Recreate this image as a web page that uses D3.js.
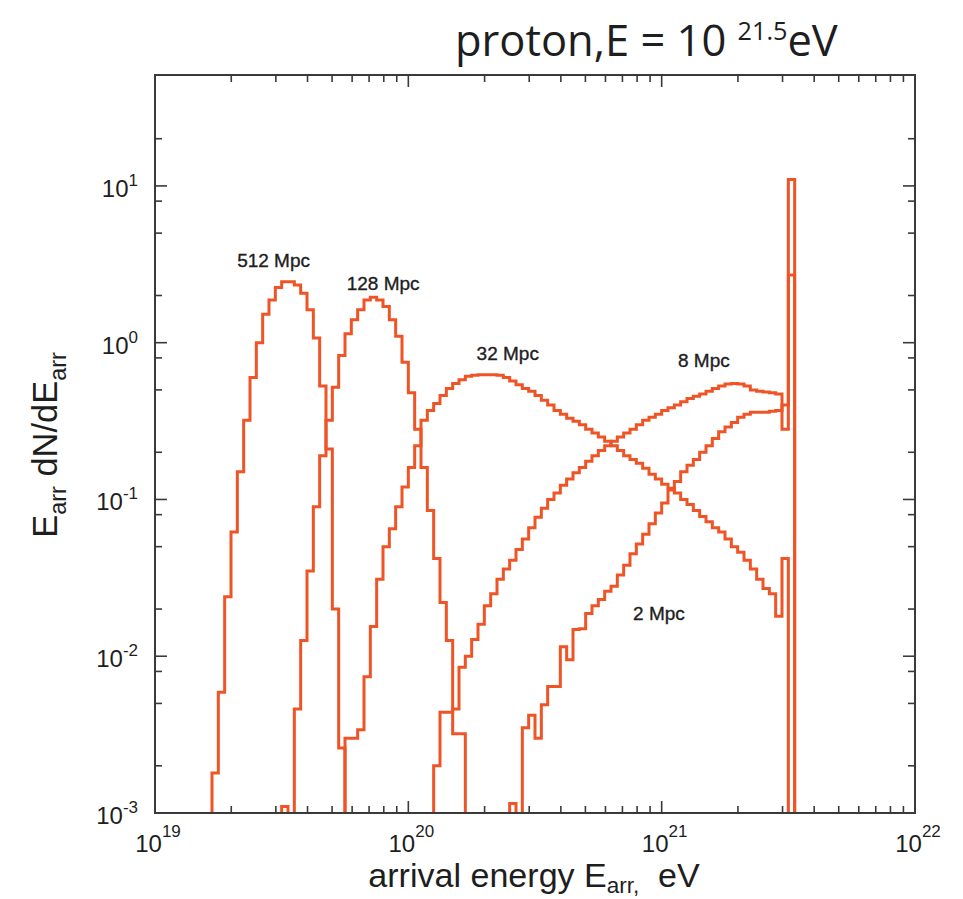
<!DOCTYPE html>
<html><head><meta charset="utf-8">
<script src="https://cdn.jsdelivr.net/npm/d3@7"></script>
<style>body{margin:0;background:#fff}svg{display:block}</style>
</head><body>
<svg id="c" width="963" height="899"></svg>
<script>
// histogram bins are 0.025 dex wide in log10(E/eV)
const binWidthDex = 0.025;

// 512 Mpc
const start512 = 19.225;
const vals512 = [0.0018, 0.0059, 0.024, 0.062, 0.15, 0.32, 0.60, 1.0, 1.52, 1.87, 2.25, 2.45, 2.45, 2.33, 2.07, 1.62, 1.07, 0.53, 0.21, 0.020, 0.0026];

// 128 Mpc
const start128 = 19.5;
const vals128 = [0.0011, 0, 0.0046, 0.0126, 0.035, 0.09, 0.19, 0.32, 0.52, 0.83, 1.14, 1.40, 1.62, 1.87, 1.95, 1.87, 1.70, 1.40, 1.1, 0.75, 0.48, 0.28, 0.16, 0.085, 0.042, 0.022, 0.0126, 0.0032, 0.0032];

// 32 Mpc
const start32 = 19.75;
const vals32 = [0.003, 0.003, 0.0034, 0.0074, 0.0155, 0.031, 0.05, 0.065, 0.09, 0.12, 0.16, 0.22, 0.32, 0.37, 0.41, 0.46, 0.51, 0.55, 0.58, 0.61,
  0.62, 0.625, 0.625, 0.625, 0.62, 0.60, 0.57, 0.54, 0.51, 0.49, 0.46, 0.43, 0.40, 0.37, 0.35, 0.33, 0.315, 0.30, 0.28, 0.265,
  0.25, 0.235, 0.22, 0.205, 0.19, 0.18, 0.17, 0.158, 0.145, 0.135, 0.125, 0.118, 0.11, 0.10, 0.093, 0.085, 0.078, 0.072, 0.066, 0.062,
  0.056, 0.05, 0.046, 0.041, 0.036, 0.031, 0.027, 0.025, 0.018, 0.042];

// 8 Mpc
const start8 = 20.1;
const vals8 = [0.002, 0.0044, 0.0044, 0.0046, 0.0085, 0.010, 0.0128, 0.016, 0.021, 0.025, 0.031, 0.036, 0.041, 0.048, 0.056, 0.066,
  0.077, 0.088, 0.10, 0.11, 0.123, 0.135, 0.148, 0.16, 0.175, 0.19, 0.205, 0.22, 0.235, 0.25, 0.265, 0.28, 0.30, 0.32, 0.335, 0.35,
  0.37, 0.385, 0.40, 0.42, 0.44, 0.455, 0.47, 0.49, 0.51, 0.53, 0.545, 0.55, 0.545, 0.53, 0.50, 0.49, 0.485, 0.48, 0.47, 0.28, 2.7];

// 2 Mpc
const start2 = 20.4;
const vals2 = [0.00115, 0, 0.0035, 0.0042, 0.0030, 0.0049, 0.0064, 0.0064, 0.0115, 0.0095, 0.0148, 0.0150, 0.0187, 0.021, 0.023,
  0.026, 0.028, 0.033, 0.038, 0.045, 0.052, 0.060, 0.070, 0.082, 0.095, 0.115, 0.13, 0.15, 0.165, 0.18, 0.20, 0.22, 0.245, 0.27,
  0.29, 0.31, 0.335, 0.35, 0.36, 0.36, 0.36, 0.365, 0.37, 0.40, 11];

const curveLabels = ["512 Mpc", "128 Mpc", "32 Mpc", "8 Mpc", "2 Mpc"];
const labelEnergies = [2.11e19, 5.71e19, 1.86e20, 1.16e21, 7.71e20];
const labelValues = [3.04, 2.17, 0.776, 0.70, 0.017];

const xTickExps = [19, 20, 21, 22];
const yTickExps = [-3, -2, -1, 0, 1];

const series = [
  {start: start512, vals: vals512},
  {start: start128, vals: vals128},
  {start: start32, vals: vals32},
  {start: start8, vals: vals8},
  {start: start2, vals: vals2}
];

const L = 155, R = 915, T = 75, B = 813;
const svg = d3.select("#c");
const x = d3.scaleLog().domain([1e19, 1e22]).range([L, R]);
const y = d3.scaleLog().domain([1e-3, 51]).range([B, T]);
const FLOOR = 1e-5;
const lineColor = "#ef5426";

svg.append("defs").append("clipPath").attr("id", "clip")
  .append("rect").attr("x", L).attr("y", T).attr("width", R - L).attr("height", B - T);

const line = d3.line().x(d => x(d[0])).y(d => y(d[1])).curve(d3.curveStepAfter);

series.forEach(s => {
  const n = s.vals.length;
  const E = i => Math.pow(10, s.start + i * binWidthDex);
  const pts = [[E(0), FLOOR]];
  s.vals.forEach((v, i) => pts.push([E(i), v > 0 ? v : FLOOR]));
  pts.push([E(n), s.vals[n - 1] > 0 ? s.vals[n - 1] : FLOOR]);
  pts.push([E(n), FLOOR]);
  svg.append("path").attr("d", line(pts))
    .attr("clip-path", "url(#clip)")
    .attr("fill", "none").attr("stroke", lineColor)
    .attr("stroke-width", 3).attr("stroke-linejoin", "miter");
});

// frame
const axisColor = "#3a3a3a";
svg.append("rect").attr("x", L).attr("y", T).attr("width", R - L).attr("height", B - T)
  .attr("fill", "none").attr("stroke", axisColor).attr("stroke-width", 2);

// ticks
const g = svg.append("g").attr("stroke", axisColor).attr("stroke-width", 1.6);
const major = 12, minor = 7;
for (let d = 19; d <= 21; d++) {
  for (let m = 1; m <= 9; m++) {
    const v = m * Math.pow(10, d);
    if (m === 1 && d === 19) continue;
    const len = m === 1 ? major : minor;
    const px = x(v);
    g.append("line").attr("x1", px).attr("x2", px).attr("y1", B).attr("y2", B - len);
    g.append("line").attr("x1", px).attr("x2", px).attr("y1", T).attr("y2", T + len);
  }
}
for (let d = -3; d <= 1; d++) {
  [1, 2, 5, 8].forEach(m => {
    const v = m * Math.pow(10, d);
    if (v <= 1e-3 || v >= 50) return;
    const len = m === 1 ? major : minor;
    const py = y(v);
    g.append("line").attr("x1", L).attr("x2", L + len).attr("y1", py).attr("y2", py);
    g.append("line").attr("x1", R).attr("x2", R - len).attr("y1", py).attr("y2", py);
  });
}

const font = "'Liberation Sans', Arial, Helvetica, sans-serif";
const ink = "#1e1e1e";
// x tick labels
xTickExps.forEach(e => {
  const t = svg.append("text").attr("x", x(Math.pow(10, e)) + 3).attr("y", 852)
    .attr("text-anchor", "middle").attr("font-family", font).attr("font-size", 24).attr("fill", ink);
  t.append("tspan").text("10");
  t.append("tspan").attr("dy", -15).attr("font-size", 17).text(String(e));
});
// y tick labels
yTickExps.forEach(e => {
  const t = svg.append("text").attr("x", 138).attr("y", y(Math.pow(10, e)) + 11)
    .attr("text-anchor", "end").attr("font-family", font).attr("font-size", 24).attr("fill", ink);
  t.append("tspan").text("10");
  t.append("tspan").attr("dy", -11).attr("font-size", 17).text(e < 0 ? "-" + Math.abs(e) : String(e));
});

// curve labels
curveLabels.forEach((lab, i) => {
  svg.append("text").attr("x", x(labelEnergies[i])).attr("y", y(labelValues[i]))
    .attr("text-anchor", "start").attr("font-family", font).attr("font-size", 19)
    .attr("fill", ink).attr("stroke", ink).attr("stroke-width", 0.35).text(lab);
});

// helper: build a text, then rebuild so its width matches target
function fitText(build, target, base) {
  let t = build(base);
  const w = t.node().getBBox().width;
  t.remove();
  return build(base * target / w);
}

// x axis title
fitText(fs => {
  const t = svg.append("text").attr("x", 534).attr("y", 887).attr("text-anchor", "middle")
    .attr("font-family", font).attr("font-size", fs).attr("fill", ink);
  t.append("tspan").text("arrival energy E");
  t.append("tspan").attr("dy", fs * 0.18).attr("font-size", fs * 0.66).text("arr,");
  t.append("tspan").attr("dy", -fs * 0.18).attr("dx", fs * 0.55).text("eV");
  return t;
}, 332, 32);

// y axis title
fitText(fs => {
  const t = svg.append("text").attr("text-anchor", "middle")
    .attr("font-family", font).attr("font-size", fs).attr("fill", ink);
  t.append("tspan").text("E");
  t.append("tspan").attr("dy", fs * 0.25).attr("font-size", fs * 0.68).text("arr");
  t.append("tspan").attr("dy", -fs * 0.25).text(" dN/dE");
  t.append("tspan").attr("dy", fs * 0.25).attr("font-size", fs * 0.68).text("arr");
  return t;
}, 186, 34).attr("transform", "translate(57,445) rotate(-90)");

// title
fitText(fs => {
  const t = svg.append("text").attr("x", 455).attr("y", 56).attr("text-anchor", "start")
    .attr("font-family", "'Open Sans', " + font).attr("font-size", fs).attr("fill", ink);
  t.append("tspan").text("proton,E = 10 ");
  t.append("tspan").attr("dy", -fs * 0.36).attr("font-size", fs * 0.58).text("21.5");
  t.append("tspan").attr("dy", fs * 0.36).text("eV");
  return t;
}, 383, 40);
</script>
</body></html>
